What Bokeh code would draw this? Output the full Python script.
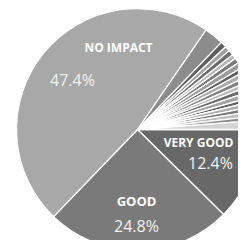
import math
from bokeh.plotting import figure
from bokeh.models import Range1d, ColumnDataSource
from bokeh.core.properties import value
from bokeh.embed import file_html
from bokeh.resources import INLINE

# Slices, clockwise from 3 o'clock (percent)
categories = ["VERY GOOD", "GOOD", "NO IMPACT", "OTHER 1",
              "o2", "o3", "o4", "o5", "o6", "o7", "o8", "o9", "o10",
              "o11", "o12", "o13", "o14", "o15", "o16", "o17", "o18", "o19"]
shares = [12.4, 24.8, 47.4, 2.6,
          0.8, 0.7, 0.7, 0.6, 0.7, 0.8, 0.6, 0.7, 0.7,
          0.6, 0.7, 0.8, 0.6, 0.7, 0.6, 0.7, 0.6, 1.2]
colors = ["#686868", "#7a7a7a", "#a8a8a8", "#8c8c8c",
          "#5e5e5e", "#a0a0a0", "#6c6c6c", "#b4b4b4", "#7a7a7a", "#9c9c9c",
          "#606060", "#aaaaaa", "#808080", "#b8b8b8", "#6a6a6a", "#a4a4a4",
          "#5c5c5c", "#b0b0b0", "#787878", "#c0c0c0", "#8a8a8a", "#d4d4d4"]

# Labels: (name text, percent text)
label_names = ["NO IMPACT", "VERY GOOD", "GOOD"]
label_pcts = ["47.4%", "12.4%", "24.8%"]

cx, cy, r = 137, -129, 121
total = sum(shares)
starts, ends = [], []
cum = 0.0
for s in shares:
    a0 = -cum / total * 2 * math.pi
    cum += s
    a1 = -cum / total * 2 * math.pi
    starts.append(a1)
    ends.append(a0)

src = ColumnDataSource(dict(start=starts, end=ends, color=colors, cat=categories))

p = figure(width=238, height=240, output_backend="svg", toolbar_location=None,
           x_range=Range1d(0, 238), y_range=Range1d(-240, 0), min_border=0)
p.axis.visible = False
p.grid.visible = False
p.outline_line_color = None
p.background_fill_color = "white"

p.wedge(x=cx, y=cy, radius=r, start_angle="start", end_angle="end",
        fill_color="color", line_color="white", line_width=1.3, source=src)

# label placements (offsets from center, pixels)
name_pos = [(-19, -82), (61, 13), (-1, 71)]
pct_pos = [(-65, -50), (73, 33), (-1, 96)]
name_sizes = ["12px", "12px", "13px"]
pct_sizes = ["16px", "16px", "16px"]
for nm, pc, (nx, ny), (px_, py_), ns, ps in zip(label_names, label_pcts, name_pos, pct_pos, name_sizes, pct_sizes):
    p.text(x=[cx + nx], y=[cy - ny], text=[nm], text_font=value("Open Sans"),
           text_font_style="bold", text_font_size=ns, text_color="white",
           text_align="center", text_baseline="middle")
    p.text(x=[cx + px_], y=[cy - py_], text=[pc], text_font=value("Open Sans"),
           text_font_size=ps, text_color="#f2f2f2",
           text_align="center", text_baseline="middle")

open("out.html", "w").write(file_html(p, INLINE))
